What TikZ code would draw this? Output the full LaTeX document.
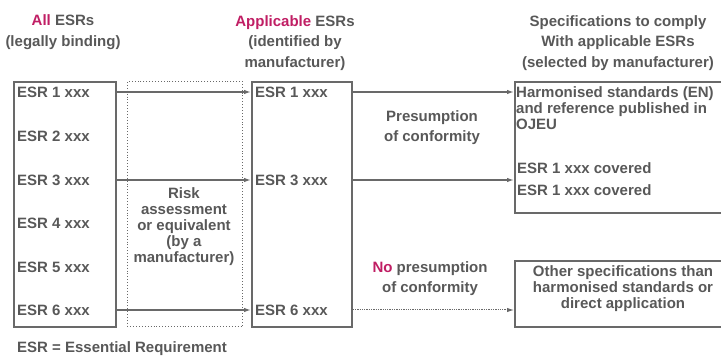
\documentclass[tikz,border=0pt]{standalone}
\usepackage{fontspec}
\setmainfont{Liberation Sans}
\usetikzlibrary{arrows.meta}
\definecolor{txtgray}{RGB}{88,88,88}
\definecolor{linegray}{RGB}{105,105,105}
\definecolor{pinkred}{RGB}{192,30,100}

\begin{document}
\begin{tikzpicture}[x=1pt,y=-1pt,
  every node/.style={font=\bfseries\fontsize{15}{16}\selectfont,text=txtgray,inner sep=0pt},
  esrbox/.style={draw=linegray,line width=1.6pt,anchor=north west},
  riskbox/.style={draw=linegray,dotted,line width=0.9pt,anchor=north west},
  head/.style={align=center,font=\bfseries\fontsize{15}{20.5}\selectfont},
  conn/.style={draw=linegray,line width=1.3pt,-{Latex[length=7pt,width=4.5pt]}}]
\useasboundingbox (0,0) rectangle (721,358);

% headings
\node[head] (hall) at (63,32) {\textcolor{pinkred}{All} ESRs\\(legally binding)};
\node[head] (happ) at (295,43) {\textcolor{pinkred}{Applicable} ESRs\\(identified by\\manufacturer)};
\node[head] (hspec) at (618,43) {Specifications to comply\\With applicable ESRs\\(selected by manufacturer)};

% boxes
\node[esrbox,minimum width=102pt,minimum height=245pt] (allbox) at (13,81) {};
\node[riskbox,minimum width=115pt,minimum height=245pt] (riskbox) at (127,81) {};
\node[esrbox,minimum width=100pt,minimum height=245pt] (appbox) at (251,81) {};
\node[esrbox,minimum width=240pt,minimum height=131pt] (harmbox) at (514,81) {};
\node[esrbox,minimum width=240pt,minimum height=66pt] (otherbox) at (514,260) {};

% all ESRs
\foreach \i/\y in {1/92,2/136,3/180,4/223,5/267,6/310}
  \node[anchor=west] (e\i) at (17,\y) {ESR \i\ xxx};

% applicable ESRs
\foreach \i/\y in {1/92,3/180,6/310}
  \node[anchor=west] (a\i) at (255,\y) {ESR \i\ xxx};

\node[align=center] (risk) at (184,227) {Risk\\assessment\\or equivalent\\(by a\\manufacturer)};

\node[align=left,anchor=north west] (harm) at (516,86.5) {Harmonised standards (EN)\\and reference published in\\OJEU};
\node[anchor=west] (cov1) at (517,168) {ESR 1 xxx covered};
\node[anchor=west] (cov2) at (517,190) {ESR 1 xxx covered};
\node[align=center] (other) at (623,289) {Other specifications than\\harmonised standards or\\direct application};

\node[align=center,font=\bfseries\fontsize{15}{20}\selectfont] (pres) at (432,128) {Presumption\\of conformity};
\node[align=center,font=\bfseries\fontsize{15}{20}\selectfont] (nopres) at (430,279) {\textcolor{pinkred}{No} presumption\\of conformity};

\node[anchor=west] (legend) at (17,349) {ESR = Essential Requirement};

% connectors
\foreach \i in {1,3,6}
  \draw[conn] (e\i -| allbox.east) -- (a\i -| appbox.west);
\draw[conn] (a1 -| appbox.east) -- (a1 -| harmbox.west);
\draw[conn] (a3 -| appbox.east) -- (a3 -| harmbox.west);
\draw[conn,densely dotted,line width=1pt] (a6 -| appbox.east) -- (a6 -| otherbox.west);
\end{tikzpicture}
\end{document}
